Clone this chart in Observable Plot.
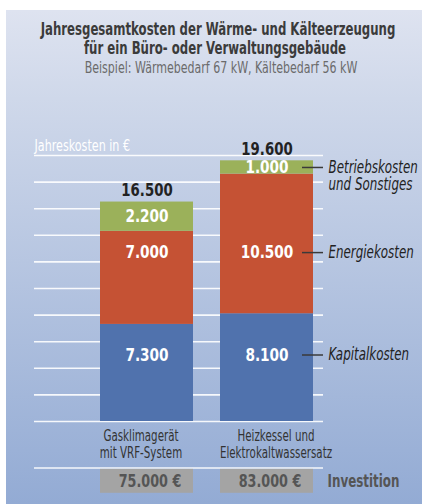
<!DOCTYPE html>
<html><head><meta charset="utf-8">
<script src="https://cdn.jsdelivr.net/npm/d3@7"></script>
<script src="https://cdn.jsdelivr.net/npm/@observablehq/plot@0.6"></script>
<style>
body{margin:0;background:#fff;}
#wrap{position:relative;width:422px;height:504px;overflow:hidden;font-family:"DejaVu Sans",sans-serif;}
#panel{position:absolute;left:6px;top:10px;right:0;bottom:0;background:linear-gradient(#dee3f0,#cfd8ea 18%,#93abd4);}
#head{position:relative;height:88px;}
.ln{position:absolute;white-space:nowrap;}
.t1{font-size:17px;font-weight:bold;color:#3b3b3b;transform:translate(-50%,-50%) scaleX(0.69);}
.t2{font-size:15px;color:#6b6b6b;transform:translate(-50%,-50%) scaleX(0.735);}
#chart{position:relative;}
</style></head>
<body>
<div id="wrap">
<div id="panel"></div>
<div id="head">
<div class="ln t1" style="top:29px;left:218px">Jahresgesamtkosten der Wärme- und Kälteerzeugung</div>
<div class="ln t1" style="top:48px;left:215px">für ein Büro- oder Verwaltungsgebäude</div>
<div class="ln t2" style="top:68px;left:221px">Beispiel: Wärmebedarf 67 kW, Kältebedarf 56 kW</div>
</div>
<div id="chart"></div>
</div>
<script>
// ---- data ----
const systems = ["Gasklimagerät\nmit VRF-System", "Heizkessel und\nElektrokaltwassersatz"];
const costTypes = ["Kapitalkosten", "Energiekosten", "Betriebskosten\nund Sonstiges"];
const kapital = [7300, 8100];
const energie = [7000, 10500];
const betrieb = [2200, 1000];
const investition = [75000, 83000];
const gridTicks = [0, 2000, 4000, 6000, 8000, 10000, 12000, 14000, 16000, 18000, 20000];
const axisLabel = "Jahreskosten in €";
const investLabel = "Investition";

// ---- derived ----
const loc = d3.formatLocale({decimal: ",", thousands: ".", grouping: [3], currency: ["", " €"]});
const fmt = loc.format(",");
const series = [kapital, energie, betrieb];
const rows = [];
systems.forEach((s, i) => {
  let base = 0;
  series.forEach((vals, j) => {
    rows.push({sys: s, type: costTypes[j], value: vals[i], y1: base, y2: base + vals[i]});
    base += vals[i];
  });
});
const totals = systems.map((s, i) => ({sys: s, total: series.reduce((a, v) => a + v[i], 0)}));
const invest = systems.map((s, i) => ({sys: s, value: investition[i]}));

// layout anchors (in y-scale units) and label shifts
const labelY = {"Kapitalkosten": 5000, "Energiekosten": 12700};
const rowsLabel = rows.map(r => ({...r, ly: labelY[r.type] ?? (r.y1 + r.y2) / 2}));
const lastSys = systems[systems.length - 1];
const annot = rowsLabel.filter(r => r.sys === lastSys);
const sepY = -3500, boxY1 = -3600, boxY2 = -5400, boxMid = -4500;
const catShift = [-6, 9];

const plot = Plot.plot({
  width: 422, height: 416,
  marginLeft: 34, marginRight: 99, marginTop: 0, marginBottom: 0,
  style: {background: "transparent", overflow: "visible", fontFamily: "inherit"},
  x: {type: "band", domain: systems, range: [100, 313], paddingInner: 27 / 120, paddingOuter: 0, axis: null},
  y: {domain: [0, 20000], range: [333, 67], axis: null},
  color: {domain: costTypes, range: ["#5072ad", "#c55234", "#9bb15a"]},
  marks: [
    Plot.ruleY(gridTicks, {stroke: "#ffffff", strokeWidth: 1.6, strokeOpacity: 0.9}),
    Plot.ruleY([sepY], {stroke: "#ffffff", strokeWidth: 1.6, strokeOpacity: 0.9}),
    Plot.text([axisLabel], {frameAnchor: "left", y: 20000, dy: -9, textAnchor: "start", fill: "#ffffff", fontSize: 15.5, ariaDescription: "k0.72"}),
    Plot.rectY(rows, {x: "sys", y1: "y1", y2: "y2", fill: "type"}),
    Plot.ruleY(annot, {y: "ly", insetLeft: 268, stroke: "#3a3a3a", strokeWidth: 1.5}),
    Plot.text(annot, {y: "ly", text: "type", frameAnchor: "right", textAnchor: "start", dx: 5, lineAnchor: "top", dy: -7, lineHeight: 1.0, fontStyle: "italic", fill: "#222", fontSize: 17.5, ariaDescription: "k0.68"}),
    Plot.text(rowsLabel, {x: "sys", y: "ly", text: d => fmt(d.value), fill: "#ffffff", fontWeight: "bold", fontSize: 18, ariaDescription: "k0.76"}),
    Plot.text(totals, {x: "sys", y: "total", text: d => fmt(d.total), dy: -12, fill: "#222", fontWeight: "bold", fontSize: 18, ariaDescription: "k0.74"}),
    ...systems.map((s, i) => Plot.text([s], {x: d => d, y: 0, text: d => d, dx: catShift[i], lineAnchor: "top", dy: 7, lineHeight: 1.12, fill: "#333", fontSize: 15.5, ariaDescription: "k0.665"})),
    Plot.barY(invest, {x: "sys", y1: boxY1, y2: boxY2, fill: "#a4a4a4"}),
    Plot.text(invest, {x: "sys", y: boxMid, text: d => fmt(d.value) + " €", dx: 3, fill: "#555", fontWeight: "bold", fontSize: 18, ariaDescription: "k0.71"}),
    Plot.text([investLabel], {frameAnchor: "right", y: boxMid, textAnchor: "start", dx: 4, fill: "#555", fontWeight: "bold", fontSize: 17.5, ariaDescription: "k0.68"})
  ]
});
document.getElementById("chart").appendChild(plot);

// condense chart text horizontally around each text's anchor (reference uses a condensed face)
plot.querySelectorAll("g[aria-description]").forEach(g => {
  const k = +g.getAttribute("aria-description").slice(1);
  g.querySelectorAll("text").forEach(t => {
    const tr = t.getAttribute("transform") || "";
    t.setAttribute("transform", tr + ` scale(${k},1)`);
  });
});
</script>
</body></html>
